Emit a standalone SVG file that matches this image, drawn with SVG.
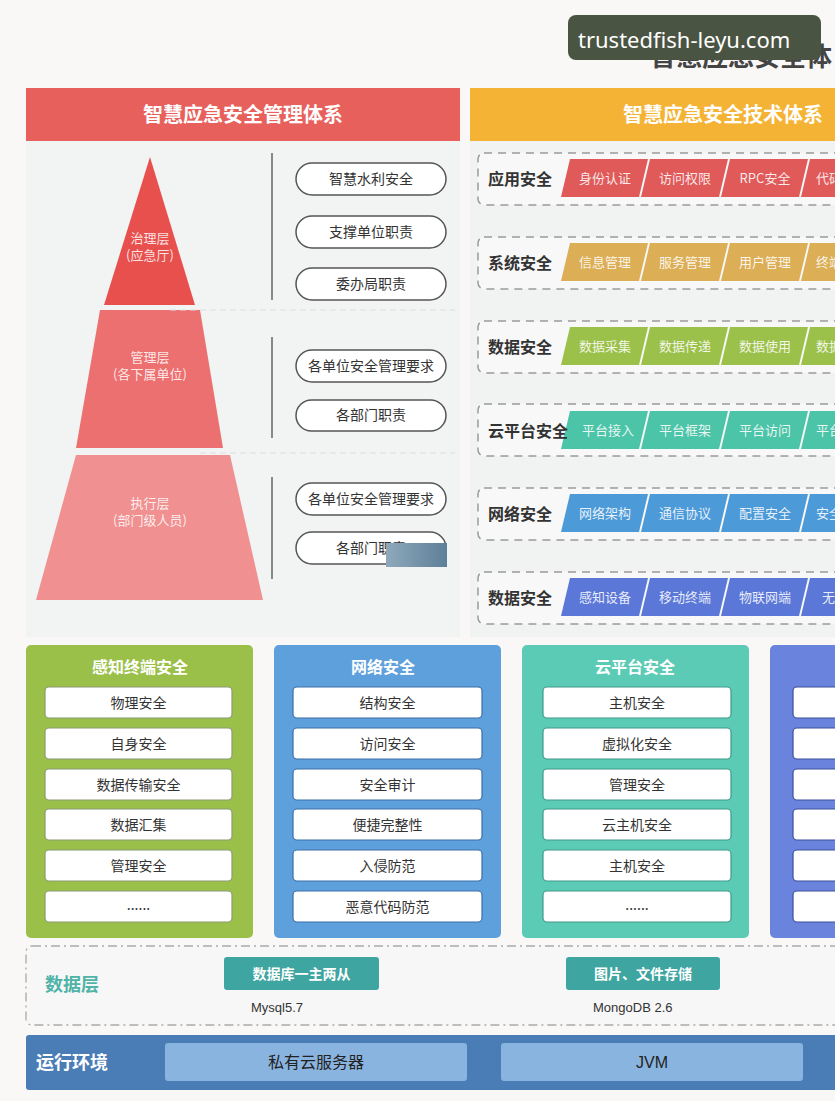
<svg xmlns="http://www.w3.org/2000/svg" width="835" height="1101" viewBox="0 0 835 1101">
<style>
text{font-family:"Noto Sans CJK SC","Noto Sans",sans-serif;}
.hd{font-size:20px;font-weight:bold;fill:#fff;text-anchor:middle;}
.py{font-size:13px;fill:#fff;fill-opacity:.85;text-anchor:middle;}
.pill rect{fill:#fff;stroke:#555;stroke-width:1.5;}
.pill text{font-size:14px;fill:#333;text-anchor:middle;}
.row rect{fill:#f8f8f8;stroke:#9a9a9a;stroke-width:1.5;stroke-dasharray:8 6;}
.row .lb{font-size:16px;font-weight:bold;fill:#333;}
.row .pt{font-size:13px;fill:#fff;fill-opacity:.88;text-anchor:middle;}
.col .ct{font-size:16px;font-weight:bold;fill:#fff;text-anchor:middle;}
.col .it rect{fill:#fff;stroke-width:1.2;}
.col .it text{font-size:14px;fill:#333;text-anchor:middle;}
.vl{stroke:#888;stroke-width:2;}
</style>
<rect x="0" y="0" width="835" height="1101" fill="#faf7f7"/>
<g id="title">
<text x="650" y="66" font-size="26" font-weight="bold" fill="#444">智慧应急安全体</text>
</g>
<g id="watermark">
<rect x="568" y="15" width="253" height="45" rx="8" fill="#4a5443"/>
<text x="578" y="48" font-size="22" fill="#fff" style="font-family:'Noto Sans',sans-serif">trustedfish-leyu.com</text>
</g>
<g id="mgmt-header">
<rect x="26" y="88" width="434" height="53" fill="#e8605c"/>
<text class="hd" x="243" y="122">智慧应急安全管理体系</text>
</g>
<g id="tech-header">
<rect x="470" y="88" width="365" height="53" fill="#f5b335"/>
<text class="hd" x="723" y="122">智慧应急安全技术体系</text>
</g>
<rect x="26" y="141" width="434" height="496" fill="#f2f3f3"/>
<rect x="470" y="141" width="365" height="496" fill="#f1f2f2"/>
<g id="pyramid">
<g id="layer-gov">
<polygon points="150,157 195,305 104,305" fill="#e8504e"/>
<text class="py" x="150" y="243">治理层</text>
<text class="py" x="150" y="260">(应急厅)</text>
</g>
<g id="layer-mgmt">
<polygon points="100,310 200,310 223,448 76,448" fill="#ec7070"/>
<text class="py" x="150" y="362">管理层</text>
<text class="py" x="150" y="379">(各下属单位)</text>
</g>
<g id="layer-exec">
<polygon points="76,455 230,455 263,600 36,600" fill="#f09090"/>
<text class="py" x="150" y="508">执行层</text>
<text class="py" x="150" y="525">(部门级人员)</text>
</g>
</g>
<g id="connectors">
<line class="vl" x1="272" y1="153" x2="272" y2="300"/>
<line class="vl" x1="272" y1="337" x2="272" y2="438"/>
<line class="vl" x1="272" y1="477" x2="272" y2="579"/>
<line x1="170" y1="310" x2="455" y2="310" stroke="#ddd" stroke-dasharray="6 4"/>
<line x1="200" y1="453" x2="455" y2="453" stroke="#ddd" stroke-dasharray="6 4"/>
</g>
<g id="pill1" class="pill"><rect x="296" y="163" width="150" height="32" rx="16"/><text x="371" y="184">智慧水利安全</text></g>
<g id="pill2" class="pill"><rect x="296" y="216" width="150" height="32" rx="16"/><text x="371" y="237">支撑单位职责</text></g>
<g id="pill3" class="pill"><rect x="296" y="268" width="150" height="32" rx="16"/><text x="371" y="289">委办局职责</text></g>
<g id="pill4" class="pill"><rect x="296" y="350" width="150" height="32" rx="16"/><text x="371" y="371">各单位安全管理要求</text></g>
<g id="pill5" class="pill"><rect x="296" y="400" width="150" height="31" rx="15.5"/><text x="371" y="420">各部门职责</text></g>
<g id="pill6" class="pill"><rect x="296" y="483" width="150" height="32" rx="16"/><text x="371" y="504">各单位安全管理要求</text></g>
<g id="pill7" class="pill"><rect x="296" y="532" width="150" height="32" rx="16"/><text x="371" y="553">各部门职责</text></g>
<g id="stamp">
<defs><linearGradient id="sg" x1="0" y1="0" x2="1" y2="0"><stop offset="0" stop-color="#8fa9bb"/><stop offset="1" stop-color="#5d7f98"/></linearGradient></defs>
<rect x="386" y="543" width="61" height="24" fill="url(#sg)"/>
</g>
<g id="row-app" class="row">
<rect x="478" y="153" width="380" height="52" rx="6"/>
<text class="lb" x="488" y="185">应用安全</text>
<g fill="#e05a5a">
<polygon points="570,159 648,159 639,197 561,197"/>
<polygon points="650,159 728,159 719,197 641,197"/>
<polygon points="730,159 808,159 799,197 721,197"/>
<polygon points="810,159 888,159 879,197 801,197"/>
</g>
<text class="pt" x="605" y="183">身份认证</text><text class="pt" x="685" y="183">访问权限</text><text class="pt" x="765" y="183">RPC安全</text><text class="pt" x="816" y="183" style="text-anchor:start">代码</text>
</g>
<g id="row-sys" class="row">
<rect x="478" y="237" width="380" height="52" rx="6"/>
<text class="lb" x="488" y="269">系统安全</text>
<g fill="#dcae55">
<polygon points="570,243 648,243 639,281 561,281"/>
<polygon points="650,243 728,243 719,281 641,281"/>
<polygon points="730,243 808,243 799,281 721,281"/>
<polygon points="810,243 888,243 879,281 801,281"/>
</g>
<text class="pt" x="605" y="267">信息管理</text><text class="pt" x="685" y="267">服务管理</text><text class="pt" x="765" y="267">用户管理</text><text class="pt" x="816" y="267" style="text-anchor:start">终端</text>
</g>
<g id="row-data" class="row">
<rect x="478" y="321" width="380" height="52" rx="6"/>
<text class="lb" x="488" y="353">数据安全</text>
<g fill="#9cc14a">
<polygon points="570,327 648,327 639,365 561,365"/>
<polygon points="650,327 728,327 719,365 641,365"/>
<polygon points="730,327 808,327 799,365 721,365"/>
<polygon points="810,327 888,327 879,365 801,365"/>
</g>
<text class="pt" x="605" y="351">数据采集</text><text class="pt" x="685" y="351">数据传递</text><text class="pt" x="765" y="351">数据使用</text><text class="pt" x="816" y="351" style="text-anchor:start">数据</text>
</g>
<g id="row-cloud" class="row">
<rect x="478" y="404" width="380" height="52" rx="6"/>
<g fill="#4cc4a8">
<polygon points="570,411 648,411 639,449 561,449"/>
<polygon points="650,411 728,411 719,449 641,449"/>
<polygon points="730,411 808,411 799,449 721,449"/>
<polygon points="810,411 888,411 879,449 801,449"/>
</g>
<text class="lb" x="488" y="437">云平台安全</text>
<text class="pt" x="608" y="435">平台接入</text><text class="pt" x="685" y="435">平台框架</text><text class="pt" x="765" y="435">平台访问</text><text class="pt" x="816" y="435" style="text-anchor:start">平台</text>
</g>
<g id="row-net" class="row">
<rect x="478" y="488" width="380" height="52" rx="6"/>
<text class="lb" x="488" y="520">网络安全</text>
<g fill="#4d9ad8">
<polygon points="570,494 648,494 639,532 561,532"/>
<polygon points="650,494 728,494 719,532 641,532"/>
<polygon points="730,494 808,494 799,532 721,532"/>
<polygon points="810,494 888,494 879,532 801,532"/>
</g>
<text class="pt" x="605" y="518">网络架构</text><text class="pt" x="685" y="518">通信协议</text><text class="pt" x="765" y="518">配置安全</text><text class="pt" x="816" y="518" style="text-anchor:start">安全</text>
</g>
<g id="row-data2" class="row">
<rect x="478" y="572" width="380" height="52" rx="6"/>
<text class="lb" x="488" y="604">数据安全</text>
<g fill="#5b78d8">
<polygon points="570,578 648,578 639,616 561,616"/>
<polygon points="650,578 728,578 719,616 641,616"/>
<polygon points="730,578 808,578 799,616 721,616"/>
<polygon points="810,578 888,578 879,616 801,616"/>
</g>
<text class="pt" x="605" y="602">感知设备</text><text class="pt" x="685" y="602">移动终端</text><text class="pt" x="765" y="602">物联网端</text><text class="pt" x="822" y="602" style="text-anchor:start">无</text>
</g>
<g id="col-terminal" class="col">
<rect x="26" y="645" width="227" height="293" rx="5" fill="#9bc04a"/>
<text class="ct" x="140" y="673">感知终端安全</text>
<g class="it">
<rect x="45" y="687" width="187" height="31" rx="4" stroke="#8a9a70"/><text x="138.5" y="708">物理安全</text>
<rect x="45" y="728" width="187" height="31" rx="4" stroke="#8a9a70"/><text x="138.5" y="749">自身安全</text>
<rect x="45" y="769" width="187" height="31" rx="4" stroke="#8a9a70"/><text x="138.5" y="790">数据传输安全</text>
<rect x="45" y="809" width="187" height="31" rx="4" stroke="#8a9a70"/><text x="138.5" y="830">数据汇集</text>
<rect x="45" y="850" width="187" height="31" rx="4" stroke="#8a9a70"/><text x="138.5" y="871">管理安全</text>
<rect x="45" y="891" width="187" height="31" rx="4" stroke="#8a9a70"/><text x="138.5" y="910">......</text>
</g>
</g>
<g id="col-network" class="col">
<rect x="274" y="645" width="227" height="293" rx="5" fill="#5ea0dc"/>
<text class="ct" x="383" y="673">网络安全</text>
<g class="it">
<rect x="293" y="687" width="189" height="31" rx="4" stroke="#3a6ea8"/><text x="387.5" y="708">结构安全</text>
<rect x="293" y="728" width="189" height="31" rx="4" stroke="#3a6ea8"/><text x="387.5" y="749">访问安全</text>
<rect x="293" y="769" width="189" height="31" rx="4" stroke="#3a6ea8"/><text x="387.5" y="790">安全审计</text>
<rect x="293" y="809" width="189" height="31" rx="4" stroke="#3a6ea8"/><text x="387.5" y="830">便捷完整性</text>
<rect x="293" y="850" width="189" height="31" rx="4" stroke="#3a6ea8"/><text x="387.5" y="871">入侵防范</text>
<rect x="293" y="891" width="189" height="31" rx="4" stroke="#3a6ea8"/><text x="387.5" y="912">恶意代码防范</text>
</g>
</g>
<g id="col-cloud" class="col">
<rect x="522" y="645" width="227" height="293" rx="5" fill="#5ccbb6"/>
<text class="ct" x="635" y="673">云平台安全</text>
<g class="it">
<rect x="543" y="687" width="188" height="31" rx="4" stroke="#3e9a8a"/><text x="637" y="708">主机安全</text>
<rect x="543" y="728" width="188" height="31" rx="4" stroke="#3e9a8a"/><text x="637" y="749">虚拟化安全</text>
<rect x="543" y="769" width="188" height="31" rx="4" stroke="#3e9a8a"/><text x="637" y="790">管理安全</text>
<rect x="543" y="809" width="188" height="31" rx="4" stroke="#3e9a8a"/><text x="637" y="830">云主机安全</text>
<rect x="543" y="850" width="188" height="31" rx="4" stroke="#3e9a8a"/><text x="637" y="871">主机安全</text>
<rect x="543" y="891" width="188" height="31" rx="4" stroke="#3e9a8a"/><text x="637" y="910">......</text>
</g>
</g>
<g id="col-four" class="col">
<rect x="770" y="645" width="100" height="293" rx="5" fill="#6a84de"/>
<g class="it">
<rect x="793" y="687" width="80" height="31" rx="4" stroke="#3a4f9a"/>
<rect x="793" y="728" width="80" height="31" rx="4" stroke="#3a4f9a"/>
<rect x="793" y="769" width="80" height="31" rx="4" stroke="#3a4f9a"/>
<rect x="793" y="809" width="80" height="31" rx="4" stroke="#3a4f9a"/>
<rect x="793" y="850" width="80" height="31" rx="4" stroke="#3a4f9a"/>
<rect x="793" y="891" width="80" height="31" rx="4" stroke="#3a4f9a"/>
</g>
</g>
<g id="data-layer">
<rect x="26" y="946" width="830" height="79" rx="6" fill="#f7f7f7" stroke="#aaa" stroke-width="1.3" stroke-dasharray="9 4 2 4"/>
<text x="45" y="991" font-size="18" font-weight="bold" fill="#4fb3a8">数据层</text>
<g id="db-mysql">
<rect x="224" y="957" width="155" height="33" rx="3" fill="#3fa5a0"/>
<text x="301.5" y="979" font-size="14" font-weight="bold" fill="#fff" text-anchor="middle">数据库一主两从</text>
<text x="251" y="1012" font-size="13" fill="#333" style="font-family:'Liberation Sans',sans-serif">Mysql5.7</text>
</g>
<g id="db-mongo">
<rect x="566" y="957" width="154" height="33" rx="3" fill="#3fa5a0"/>
<text x="643" y="979" font-size="14" font-weight="bold" fill="#fff" text-anchor="middle">图片、文件存储</text>
<text x="593" y="1012" font-size="13" fill="#333" style="font-family:'Liberation Sans',sans-serif">MongoDB 2.6</text>
</g>
</g>
<g id="runtime">
<rect x="26" y="1035" width="830" height="55" rx="3" fill="#4a7cb5"/>
<text x="36" y="1069" font-size="18" font-weight="bold" fill="#fff">运行环境</text>
<g id="rt-cloud">
<rect x="165" y="1043" width="302" height="38" rx="3" fill="#8ab4e0"/>
<text x="316" y="1068" font-size="16" fill="#222" text-anchor="middle">私有云服务器</text>
</g>
<g id="rt-jvm">
<rect x="501" y="1043" width="302" height="38" rx="3" fill="#8ab4e0"/>
<text x="652" y="1068" font-size="16" fill="#222" text-anchor="middle" style="font-family:'Liberation Sans',sans-serif">JVM</text>
</g>
</g>
</svg>
